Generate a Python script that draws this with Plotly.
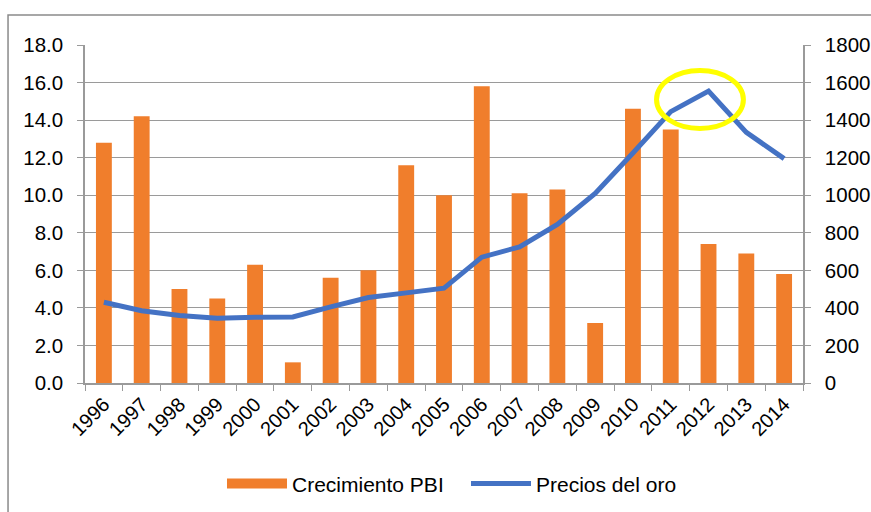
import plotly.graph_objects as go

years = [str(y) for y in range(1996, 2015)]
crecimiento_pbi = [12.8, 14.2, 5.0, 4.5, 6.3, 1.1, 5.6, 6.0, 11.6, 10.0,
                   15.8, 10.1, 10.3, 3.2, 14.6, 13.5, 7.4, 6.9, 5.8]
precios_oro = [430, 385, 360, 345, 350, 352, 405, 455, 480, 505,
               670, 725, 845, 1010, 1225, 1445, 1555, 1335, 1195]

FONT = "Liberation Sans, Arial, sans-serif"
GRID = "#9a9a9a"
ORANGE = "#F07E2C"

fig = go.Figure()
fig.add_trace(go.Bar(
    x=years, y=crecimiento_pbi, name="Crecimiento PBI",
    marker=dict(color=ORANGE, line=dict(width=0)),
    yaxis="y", showlegend=False,
))
# legend entry drawn as a wide orange bar swatch
fig.add_trace(go.Scatter(
    x=[years[0]], y=[None], name="Crecimiento PBI", mode="lines",
    line=dict(color=ORANGE, width=10), yaxis="y", hoverinfo="skip",
))
fig.add_trace(go.Scatter(
    x=years, y=precios_oro, name="Precios del oro", mode="lines",
    line=dict(color="#4472C4", width=5),
    yaxis="y2",
))

fig.update_layout(
    width=871, height=512,
    margin=dict(l=85, r=68, t=45, b=129, autoexpand=False),
    paper_bgcolor="white", plot_bgcolor="white",
    font=dict(family=FONT, size=21, color="#000000"),
    bargap=0.58,
    showlegend=True,
    legend=dict(orientation="h", x=0.1908, xanchor="left",
                yref="container", y=0.055, yanchor="middle",
                entrywidth=169, entrywidthmode="pixels",
                font=dict(size=21), itemwidth=60, traceorder="normal"),
    xaxis=dict(type="category", tickangle=-45, tickson="boundaries",
               ticks="outside", ticklen=6, tickcolor=GRID, automargin=False,
               showline=True, linecolor=GRID, linewidth=1.5,
               showgrid=False, tickfont=dict(size=20)),
    yaxis=dict(range=[0, 18], dtick=2, tickformat=".1f", automargin=False,
               showgrid=True, gridcolor=GRID, gridwidth=1,
               showline=True, linecolor=GRID, linewidth=1.5,
               ticks="outside", ticklen=6, tickcolor=GRID,
               ticklabelstandoff=10, zeroline=False, tickfont=dict(size=20.5)),
    yaxis2=dict(range=[0, 1800], dtick=200, overlaying="y", side="right",
                automargin=False,
                showgrid=False, showline=True, linecolor=GRID, linewidth=1.5,
                ticks="outside", ticklen=6, tickcolor=GRID,
                ticklabelstandoff=10, zeroline=False, tickfont=dict(size=20.5)),
    shapes=[
        dict(type="path", xref="paper", yref="paper",
             path="M -0.1072,-0.6 L -0.1072,1.0888 L 1.5,1.0888",
             line=dict(color="#8a8a8a", width=1.5), layer="below"),
        dict(type="circle", xref="paper", yref="paper",
             x0=0.796, x1=0.917, y0=0.753, y1=0.9246,
             line=dict(color="#FFFF00", width=5)),
    ],
)

fig.write_html(
    "out.html",
    config={"displayModeBar": False},
    post_script="document.body.style.margin='0';document.body.style.overflow='hidden';",
)
